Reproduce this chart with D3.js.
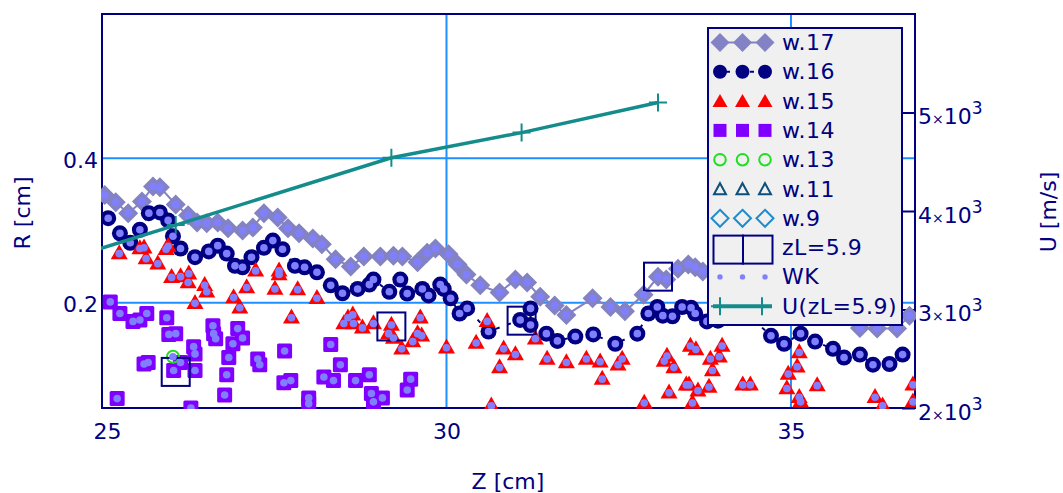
<!DOCTYPE html>
<html lang="en">
<head>
<meta charset="UTF-8">
<title>R and U along Z</title>
<script src="https://cdn.jsdelivr.net/npm/d3@7"></script>
<style>
  body { margin: 0; background: #fff; }
  svg text { font-family: 'DejaVu Sans', Verdana, sans-serif; }
</style>
</head>
<body>
<div id="plot"></div>
<script>
// ---- data ----
const w17Z = [25.04,25.20,25.38,25.58,25.74,25.84,26.07,26.25,26.38,26.52,26.68,26.83,27.04,27.19,27.35,27.55,27.70,27.86,28.06,28.19,28.39,28.61,28.80,29.04,29.23,29.36,29.58,29.72,29.84,30.03,30.16,30.29,30.49,30.77,31.00,31.17,31.36,31.57,31.74,32.12,32.38,32.59,32.86,33.07,33.19,33.36,33.51,33.61,33.72,36.00,36.25,36.54,36.72];
const w17R = [0.349,0.339,0.324,0.340,0.361,0.360,0.336,0.321,0.311,0.310,0.311,0.303,0.300,0.304,0.324,0.318,0.303,0.296,0.289,0.281,0.260,0.250,0.264,0.264,0.265,0.264,0.256,0.269,0.275,0.267,0.253,0.239,0.224,0.214,0.232,0.228,0.208,0.196,0.183,0.206,0.194,0.188,0.211,0.236,0.232,0.247,0.253,0.249,0.243,0.165,0.164,0.164,0.182];

const w16Z = [25.09,25.26,25.41,25.55,25.68,25.84,25.96,26.03,26.14,26.35,26.55,26.68,26.81,26.93,27.04,27.17,27.35,27.48,27.62,27.80,27.94,28.12,28.32,28.49,28.71,28.88,28.94,29.17,29.33,29.43,29.65,29.74,29.91,29.96,30.06,30.19,30.30,30.61,31.07,31.22,31.22,31.45,31.61,31.87,32.13,32.45,32.77,32.93,33.06,33.14,33.28,33.42,33.55,33.61,33.78,33.94,34.30,34.71,34.90,35.14,35.35,35.61,35.77,36.00,36.19,36.43,36.62];
const w16R = [0.317,0.296,0.283,0.301,0.324,0.325,0.314,0.292,0.275,0.263,0.271,0.279,0.268,0.251,0.249,0.263,0.276,0.286,0.274,0.251,0.249,0.242,0.224,0.213,0.219,0.225,0.232,0.215,0.232,0.2125,0.219,0.210,0.225,0.219,0.206,0.185,0.192,0.160,0.176,0.192,0.169,0.157,0.147,0.153,0.156,0.143,0.157,0.185,0.194,0.182,0.181,0.194,0.193,0.185,0.174,0.175,0.190,0.154,0.143,0.157,0.146,0.136,0.124,0.128,0.114,0.115,0.128];

const w15Z = [25.25,25.55,25.61,25.64,25.81,25.93,25.96,26.01,26.14,26.26,26.25,26.49,26.52,26.35,26.91,27.00,27.10,27.23,27.57,27.57,27.51,27.84,28.12,27.75,28.57,28.64,28.51,28.65,28.78,28.94,29.20,29.16,29.23,29.35,29.62,29.58,29.64,29.51,30.00,30.43,30.59,30.83,31.00,30.77,30.65,31.29,31.46,31.74,32.03,32.23,32.55,32.49,32.26,32.87,33.20,33.16,33.30,33.23,33.54,33.62,33.48,33.52,33.65,33.83,33.96,34.00,33.86,33.81,33.57,34.30,34.41,35.12,35.09,34.96,34.94,35.12,35.14,35.38,36.22,36.33,36.77,36.77];
const w15R = [0.268,0.275,0.276,0.261,0.254,0.274,0.278,0.235,0.236,0.240,0.228,0.224,0.215,0.199,0.207,0.193,0.221,0.244,0.244,0.239,0.219,0.218,0.206,0.179,0.179,0.183,0.171,0.171,0.165,0.171,0.169,0.157,0.151,0.136,0.179,0.157,0.154,0.146,0.1375,0.144,0.174,0.136,0.128,0.110,0.057,0.150,0.122,0.117,0.122,0.118,0.122,0.114,0.094,0.061,0.126,0.119,0.110,0.075,0.140,0.135,0.086,0.086,0.078,0.122,0.125,0.140,0.106,0.083,0.061,0.086,0.086,0.131,0.111,0.101,0.081,0.069,0.0625,0.085,0.069,0.057,0.086,0.0625];

const w14Z = [25.12,25.26,25.45,25.55,25.65,25.94,25.97,26.07,25.61,25.67,26.04,26.14,26.33,26.35,26.35,26.61,26.62,26.65,26.81,26.84,26.90,26.97,27.04,27.26,27.29,25.22,26.29,26.78,27.65,28.32,28.46,27.64,27.74,28.22,28.36,28.68,28.88,28.00,28.00,28.91,28.94,29.07,29.48,29.43];
const w14R = [0.201,0.185,0.174,0.176,0.185,0.179,0.156,0.157,0.115,0.117,0.106,0.117,0.139,0.129,0.106,0.168,0.157,0.150,0.100,0.124,0.143,0.164,0.151,0.122,0.114,0.067,0.054,0.072,0.133,0.142,0.114,0.089,0.092,0.097,0.092,0.092,0.100,0.068,0.060,0.074,0.0625,0.068,0.094,0.079];

const w13Z = [26.03];
const w13R = [0.125];

// zL=5.9 boxes and the U curve (right axis)
const zlZ = [26.07, 29.20, 31.09, 33.07];
const zlR = [0.104, 0.167, 0.175, 0.236];
const uZ = [24.5, 26.07, 29.20, 31.09, 33.07];
const uV = [3514, 3857, 4541, 4796, 5102];

const xTicks = [25, 30, 35];
const yTicks = [0.2, 0.4];
const uTicks = [2000, 3000, 4000, 5000];
const legendLabels = ['w.17', 'w.16', 'w.15', 'w.14', 'w.13', 'w.11', 'w.9', 'zL=5.9', 'WK', 'U(zL=5.9)'];

// ---- layout ----
const W = 1063, H = 493;
const margin = { top: 14, right: 148, bottom: 85, left: 102 };
const width = W - margin.left - margin.right;
const height = H - margin.top - margin.bottom;

const navy = '#000080', grid = '#1e90ff', teal = '#148c8c';
const c17 = '#8282c4', c15 = '#ff0000', c14 = '#8000ff', c13 = '#22dd22', c11 = '#0b4f7c', c9 = '#1e8ccc', wk = '#8080ff';

const pts = (zs, rs) => zs.map((z, i) => ({ z, r: rs[i] }));
const d17 = pts(w17Z, w17R), d16 = pts(w16Z, w16R), d15 = pts(w15Z, w15R),
      d14 = pts(w14Z, w14R), d13 = pts(w13Z, w13R), dzl = pts(zlZ, zlR);
const dU = uZ.map((z, i) => ({ z, u: uV[i] }));

const x = d3.scaleLinear().domain([25, 36.8]).range([0, width]);
const y = d3.scaleLinear().domain([0.054, 0.6]).range([height, 0]);
const yU = d3.scaleLinear().domain([2000, 6000]).range([height, 0]);

// marker shapes
const diamond = r => `M0,${-r}L${r},0L0,${r}L${-r},0Z`;
const triangle = (w, h) => `M0,${-h * 0.62}L${w / 2},${h * 0.38}L${-w / 2},${h * 0.38}Z`;
const plus = s => `M${-s / 2},0H${s / 2}M0,${-s / 2}V${s / 2}`;

const svg = d3.select('#plot').append('svg')
  .attr('width', W).attr('height', H);
const g = svg.append('g')
  .attr('transform', `translate(${margin.left},${margin.top})`);

svg.append('defs').append('clipPath').attr('id', 'clip')
  .append('rect').attr('x', -1).attr('y', -1).attr('width', width + 2).attr('height', height + 2);

// grid lines
g.selectAll('.gx').data(xTicks.filter(t => t > 25)).enter().append('line')
  .attr('x1', d => x(d)).attr('x2', d => x(d)).attr('y1', 0).attr('y2', height)
  .attr('stroke', grid).attr('stroke-width', 2);
g.selectAll('.gy').data(yTicks).enter().append('line')
  .attr('y1', d => y(d)).attr('y2', d => y(d)).attr('x1', 0).attr('x2', width)
  .attr('stroke', grid).attr('stroke-width', 2);

// frame
g.append('rect').attr('width', width).attr('height', height)
  .attr('fill', 'none').attr('stroke', navy).attr('stroke-width', 2);

// axes
let xAxis = g.append('g').attr('transform', `translate(0,${height})`)
  .call(d3.axisBottom(x).tickValues(xTicks).tickSize(0).tickPadding(15).tickFormat(d3.format('d')));
let yAxis = g.append('g')
  .call(d3.axisLeft(y).tickValues(yTicks).tickSize(0).tickPadding(4).tickFormat(d3.format('.1f')));
let uAxis = g.append('g').attr('transform', `translate(${width},0)`)
  .call(d3.axisRight(yU).tickValues(uTicks).tickSize(-13).tickPadding(3));

[xAxis, yAxis, uAxis].forEach(a => {
  a.select('.domain').remove();
  a.attr('font-size', 22).attr('font-family', 'DejaVu Sans').style('color', navy);
});
uAxis.selectAll('.tick line').attr('stroke-width', 2);
xAxis.selectAll('.tick text').filter(d => d === 25).attr('dx', 5);
yAxis.selectAll('.tick text').attr('dy', '0.42em');
uAxis.selectAll('.tick text').attr('dy', '0.5em').each(function (d) {
  const t = d3.select(this).text('');
  t.append('tspan').text(d / 1000);
  t.append('tspan').attr('font-size', 14).text('×');
  t.append('tspan').text('10');
  t.append('tspan').attr('font-size', 17).attr('dy', -10).text('3');
});

// axis titles
svg.append('text').attr('transform', 'translate(22,213) rotate(-90)')
  .attr('text-anchor', 'middle').attr('dominant-baseline', 'central')
  .attr('font-size', 22).attr('fill', navy).text('R [cm]');
svg.append('text').attr('transform', 'translate(1048,212) rotate(-90)')
  .attr('text-anchor', 'middle').attr('dominant-baseline', 'central')
  .attr('font-size', 22).attr('fill', navy).text('U [m/s]');
svg.append('text').attr('x', 508).attr('y', 481)
  .attr('text-anchor', 'middle').attr('dominant-baseline', 'central')
  .attr('font-size', 22).attr('fill', navy).text('Z [cm]');

// ---- data marks ----
const plot = g.append('g').attr('clip-path', 'url(#clip)');
const tr = d => `translate(${x(d.z)},${y(d.r)})`;

// w.17
plot.append('path').datum(d17)
  .attr('d', d3.line().x(d => x(d.z)).y(d => y(d.r)))
  .attr('fill', 'none').attr('stroke', c17).attr('stroke-width', 2);
plot.selectAll('.w17').data(d17).enter().append('path')
  .attr('transform', tr).attr('d', diamond(10)).attr('fill', c17);

// w.16
plot.append('path').datum(d16)
  .attr('d', d3.line().x(d => x(d.z)).y(d => y(d.r)))
  .attr('fill', 'none').attr('stroke', navy).attr('stroke-width', 2).attr('stroke-dasharray', '4,8');
plot.selectAll('.w16').data(d16).enter().append('circle')
  .attr('cx', d => x(d.z)).attr('cy', d => y(d.r)).attr('r', 8).attr('fill', navy);

// w.15
plot.selectAll('.w15').data(d15).enter().append('path')
  .attr('transform', tr).attr('d', triangle(17, 15)).attr('fill', c15);

// w.14
plot.selectAll('.w14').data(d14).enter().append('rect')
  .attr('x', d => x(d.z) - 7.5).attr('y', d => y(d.r) - 7.5)
  .attr('width', 15).attr('height', 15).attr('rx', 1.5).attr('fill', c14);

// w.13
plot.selectAll('.w13').data(d13).enter().append('circle')
  .attr('cx', d => x(d.z)).attr('cy', d => y(d.r)).attr('r', 6)
  .attr('fill', 'none').attr('stroke', c13).attr('stroke-width', 2);

// zL=5.9 boxes
plot.selectAll('.zl').data(dzl).enter().append('rect')
  .attr('x', d => x(d.z) - 14).attr('y', d => y(d.r) - 14)
  .attr('width', 28).attr('height', 28)
  .attr('fill', 'none').attr('stroke', navy).attr('stroke-width', 2);

// WK dots on every measured point
plot.selectAll('.wk').data([...d17, ...d16, ...d15, ...d14, ...d13]).enter().append('circle')
  .attr('cx', d => x(d.z)).attr('cy', d => y(d.r)).attr('r', 3.8).attr('fill', wk);

// U(zL=5.9) on the right axis
plot.append('path').datum(dU)
  .attr('d', d3.line().x(d => x(d.z)).y(d => yU(d.u)))
  .attr('fill', 'none').attr('stroke', teal).attr('stroke-width', 3.5);
plot.selectAll('.up').data(dU).enter().append('path')
  .attr('transform', d => `translate(${x(d.z)},${yU(d.u)})`)
  .attr('d', plus(18)).attr('stroke', teal).attr('stroke-width', 2);

// ---- legend ----
const leg = svg.append('g').attr('transform', 'translate(708,28)');
leg.append('rect').attr('width', 194).attr('height', 297)
  .attr('fill', '#f0f0f0').attr('stroke', navy).attr('stroke-width', 2);
const rowY = i => 14.5 + i * 29.3;
const sx = [12, 34.5, 57];
const rows = leg.selectAll('.row').data(legendLabels).enter().append('g')
  .attr('transform', (d, i) => `translate(0,${rowY(i)})`);
rows.append('text').attr('x', 74).attr('dominant-baseline', 'central')
  .attr('font-size', 22).attr('letter-spacing', 0.5).attr('fill', navy).text(d => d);

const row = i => d3.select(rows.nodes()[i]);
// w.17
row(0).append('line').attr('x1', sx[0]).attr('x2', sx[2]).attr('stroke', c17).attr('stroke-width', 2);
sx.forEach(s => row(0).append('path').attr('transform', `translate(${s},0)`).attr('d', diamond(9.5)).attr('fill', c17));
// w.16
row(1).append('line').attr('x1', sx[0]).attr('x2', sx[2]).attr('stroke', navy).attr('stroke-width', 2).attr('stroke-dasharray', '4,8').attr('stroke-dashoffset', -6);
sx.forEach(s => row(1).append('circle').attr('cx', s).attr('r', 7).attr('fill', navy));
// w.15
sx.forEach(s => row(2).append('path').attr('transform', `translate(${s},1)`).attr('d', triangle(15, 13)).attr('fill', c15));
// w.14
sx.forEach(s => row(3).append('rect').attr('x', s - 6.5).attr('y', -6.5).attr('width', 13).attr('height', 13).attr('fill', c14));
// w.13
sx.forEach(s => row(4).append('circle').attr('cx', s).attr('r', 5.8).attr('fill', 'none').attr('stroke', c13).attr('stroke-width', 2));
// w.11
sx.forEach(s => row(5).append('path').attr('transform', `translate(${s},1)`).attr('d', triangle(12, 11))
  .attr('fill', 'none').attr('stroke', c11).attr('stroke-width', 2));
// w.9
sx.forEach(s => row(6).append('path').attr('transform', `translate(${s},0)`).attr('d', diamond(8.5))
  .attr('fill', 'none').attr('stroke', c9).attr('stroke-width', 2));
// zL=5.9
[5.5, 35].forEach(s => row(7).append('rect').attr('x', s).attr('y', -12).attr('width', 29.5).attr('height', 28)
  .attr('fill', 'none').attr('stroke', navy).attr('stroke-width', 2));
// WK
sx.forEach(s => row(8).append('circle').attr('cx', s).attr('r', 2.7).attr('fill', wk));
// U(zL=5.9)
row(9).append('line').attr('x1', 5).attr('x2', 64).attr('stroke', teal).attr('stroke-width', 4);
[12, 54].forEach(s => row(9).append('path').attr('transform', `translate(${s},0)`).attr('d', plus(18))
  .attr('stroke', teal).attr('stroke-width', 2));
</script>
</body>
</html>
